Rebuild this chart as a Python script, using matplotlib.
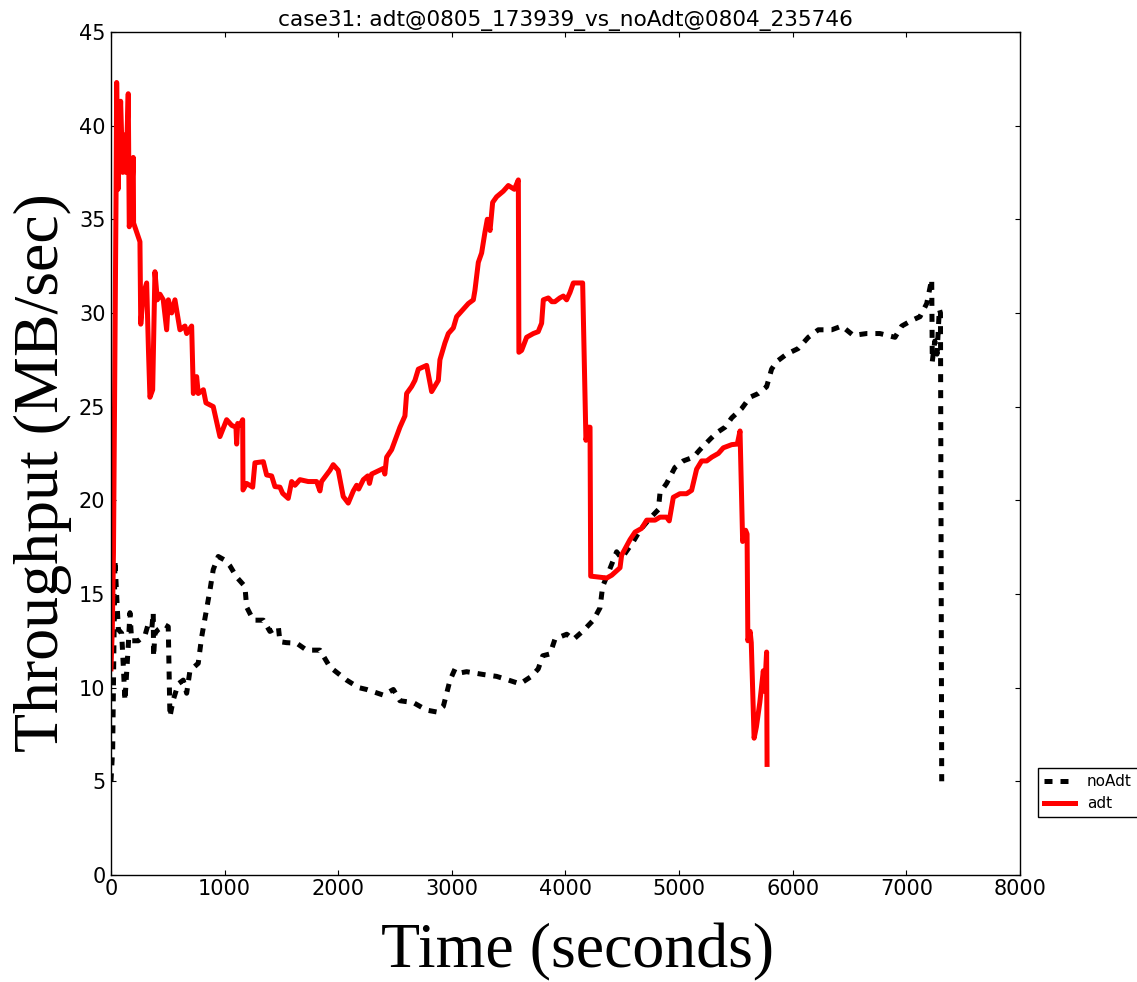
import matplotlib
matplotlib.use('Agg')  # Non-interactive backend
import matplotlib.pyplot as plt

# adt run: time (sec) / throughput (MB/sec)
adt_time = [0, 12, 22, 45, 50, 62, 85, 103, 118, 132, 152, 161, 178, 196, 199,
            255, 262, 284, 314, 330, 343, 367, 387, 408, 431, 460, 490, 505, 534,
            563, 607, 651, 666, 710, 725, 754, 768, 813, 836, 900, 959, 1018, 1062,
            1100, 1106, 1115, 1136, 1159, 1162, 1194, 1247, 1267, 1341, 1370, 1414,
            1443, 1487, 1511, 1560, 1590, 1619, 1663, 1736, 1810, 1839, 1853, 1927,
            1956, 2000, 2044, 2088, 2133, 2162, 2180, 2221, 2260, 2275, 2294, 2397,
            2410, 2426, 2470, 2543, 2587, 2602, 2646, 2675, 2705, 2778, 2822, 2881,
            2895, 2939, 2969, 3013, 3042, 3086, 3145, 3189, 3203, 3233, 3262, 3291,
            3312, 3336, 3359, 3394, 3453, 3497, 3550, 3585, 3590, 3614, 3658, 3717,
            3760, 3790, 3805, 3849, 3880, 3907, 3950, 3981, 4010, 4040, 4069, 4151,
            4180, 4201, 4216, 4222, 4363, 4407, 4480, 4494, 4568, 4612, 4670, 4715,
            4788, 4832, 4890, 4913, 4949, 5007, 5066, 5110, 5154, 5198, 5243, 5287,
            5345, 5389, 5463, 5512, 5536, 5559, 5585, 5598, 5605, 5625, 5635, 5660,
            5680, 5710, 5741, 5752, 5770, 5774]
adt_tput = [11.0, 13.2, 17.2, 36.5, 42.3, 36.6, 41.3, 37.5, 39.5, 37.5, 41.7, 34.6, 35.5, 38.3, 34.8,
            33.8, 29.4, 31.0, 31.6, 28.0, 25.5, 25.9, 32.2, 30.7, 31.0, 30.7, 29.1, 30.7, 30.0,
            30.7, 29.1, 29.3, 28.9, 29.3, 25.7, 26.6, 25.7, 25.9, 25.2, 25.0, 23.4, 24.3, 24.0,
            23.9, 23.0, 24.1, 24.0, 24.3, 20.55, 20.9, 20.7, 22.0, 22.06, 21.35, 21.3,
            20.73, 20.7, 20.37, 20.1, 21.0, 20.8, 21.1, 21.0, 21.0, 20.5, 21.0, 21.6,
            21.9, 21.6, 20.2, 19.85, 20.5, 20.8, 20.6, 21.1, 21.3, 20.9, 21.4, 21.7,
            21.4, 22.3, 22.7, 23.9, 24.5, 25.7, 26.07, 26.4, 27.0, 27.2, 25.8, 26.4,
            27.5, 28.4, 28.9, 29.2, 29.8, 30.1, 30.5, 30.7, 31.2, 32.7, 33.2, 34.3,
            35.0, 34.4, 35.9, 36.2, 36.5, 36.8, 36.6, 37.1, 27.9, 28.0, 28.7, 28.9,
            29.0, 29.45, 30.7, 30.8, 30.6, 30.6, 30.8, 30.9, 30.7, 31.1, 31.6, 31.6,
            23.2, 23.9, 23.9, 15.95, 15.85, 16.0, 16.4, 17.07, 17.9, 18.3, 18.5, 18.94,
            18.94, 19.1, 19.1, 18.9, 20.16, 20.35, 20.35, 20.53, 21.66, 22.1, 22.1, 22.3,
            22.5, 22.8, 22.97, 23.0, 23.7, 17.8, 18.4, 18.2, 12.5, 13.0, 12.4, 7.3,
            7.9, 9.2, 10.9, 9.8, 11.9, 5.9]

# noAdt run
noadt_time = [0, 15, 35, 65, 94, 109, 123, 152, 167, 182, 240, 300, 328, 360, 372,
              375, 387, 416, 475, 504, 519, 548, 592, 636, 666, 695, 768, 798, 836,
              871, 900, 944, 1003, 1047, 1106, 1179, 1194, 1253, 1341, 1399, 1473,
              1487, 1546, 1634, 1722, 1839, 1927, 2074, 2180, 2250, 2397, 2485, 2543,
              2661, 2778, 2866, 2925, 2984, 3028, 3086, 3130, 3277, 3394, 3500, 3600,
              3700, 3760, 3800, 3864, 3908, 4011, 4069, 4157, 4245, 4304, 4327, 4377,
              4450, 4494, 4597, 4656, 4744, 4817, 4832, 4890, 4963, 5037, 5125, 5183,
              5271, 5330, 5404, 5463, 5551, 5624, 5697, 5770, 5814, 5858, 5946, 6048,
              6137, 6225, 6343, 6431, 6533, 6650, 6767, 6900, 6959, 7047, 7120, 7179,
              7223, 7228, 7250, 7270, 7290, 7300, 7311]
noadt_tput = [5.0, 6.7, 16.8, 13.1, 12.9, 11.1, 9.3, 12.2, 14.0, 12.5, 12.5, 12.8, 13.4, 13.2, 14.0,
              11.65, 12.9, 13.1, 13.35, 13.25, 8.45, 9.34, 10.2, 10.4, 9.7, 10.9, 11.3, 12.7, 14.0,
              15.2, 16.3, 17.0, 16.8, 16.5, 15.9, 15.4, 14.3, 13.6, 13.6, 13.0, 13.25,
              12.45, 12.4, 12.37, 12.0, 12.0, 11.1, 10.4, 10.0, 9.9, 9.6, 9.9, 9.3,
              9.2, 8.8, 8.7, 9.0, 10.4, 11.0, 10.8, 10.85, 10.7, 10.6, 10.4, 10.2,
              10.6, 11.0, 11.7, 11.8, 12.6, 12.85, 12.57, 13.04, 13.6, 14.26, 15.4, 16.13,
              17.25, 16.9, 17.8, 18.4, 19.04, 19.5, 20.4, 20.9, 21.75, 22.1, 22.3, 22.7,
              23.25, 23.6, 23.9, 24.4, 24.9, 25.5, 25.7, 26.06, 27.0, 27.4, 27.8, 28.1,
              28.7, 29.1, 29.1, 29.3, 28.8, 28.9, 28.9, 28.7, 29.3, 29.6, 29.8, 30.5,
              31.8, 27.4, 28.5, 27.8, 30.2, 30.0, 5.0]

TITLE = "case31: adt@0805_173939_vs_noAdt@0804_235746"

fig = plt.figure(figsize=(11.37, 9.82), dpi=100, facecolor='white')
ax = fig.add_axes([0.0976, 0.109, 0.7995, 0.8585])

# noAdt drawn first so the red line sits on top
ax.plot(noadt_time, noadt_tput, color='black', lw=3.6,
        linestyle=(0, (1.6, 1.6)), dash_capstyle='butt', label='noAdt')
ax.plot(adt_time, adt_tput, color='red', lw=3.6, label='adt')

ax.set_xlim(0, 8000)
ax.set_ylim(0, 45)
ax.set_xticks(range(0, 8001, 1000))
ax.set_yticks(range(0, 46, 5))
ax.tick_params(direction='in', top=True, right=True, length=3.5, width=0.8,
               labelsize=15)
ax.tick_params(axis='x', pad=3)
ax.tick_params(axis='y', pad=4)
for sp in ax.spines.values():
    sp.set_linewidth(1)

ax.set_title(TITLE, fontsize=15.6, pad=4)
ax.set_xlabel("Time (seconds)", family='Liberation Serif', fontsize=46)
ax.set_ylabel("Throughput (MB/sec)", family='Liberation Serif', fontsize=46)
ax.xaxis.set_label_coords(0.5127, -0.058)
ax.yaxis.set_label_coords(-0.043, 0.4775)

leg = ax.legend(loc='upper left', bbox_to_anchor=(1038 / 1137, 1 - 768 / 982),
                bbox_transform=fig.transFigure, fontsize=11, fancybox=False,
                framealpha=1, edgecolor='black', borderaxespad=0,
                handlelength=2.0, borderpad=0.4, labelspacing=0.45)
leg.get_frame().set_linewidth(1)

fig.savefig("out.png", dpi=100, facecolor='white')
plt.close(fig)
